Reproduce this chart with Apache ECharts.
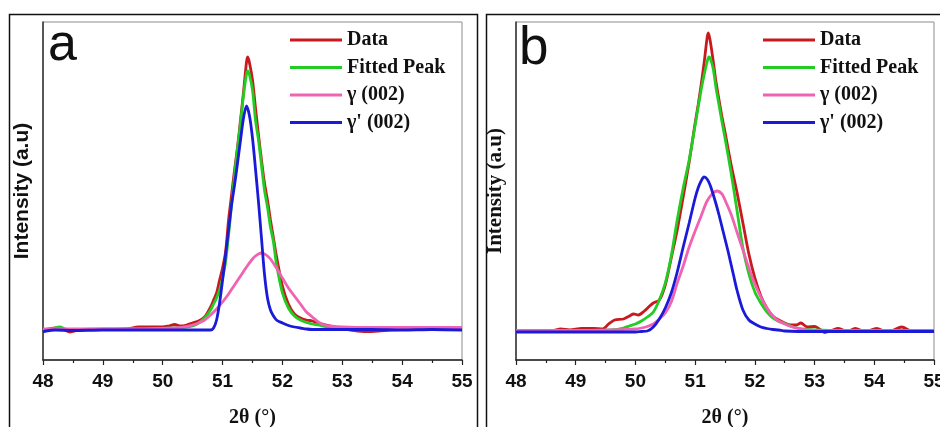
<!DOCTYPE html>
<html>
<head>
<meta charset="utf-8">
<script src="https://cdn.jsdelivr.net/npm/echarts@6/dist/echarts.min.js"></script>
<style>
html,body{margin:0;padding:0;background:#fff;overflow:hidden;}
#chart{width:940px;height:427px;}
</style>
</head>
<body>
<div id="chart"></div>
<script>
// ---- Data (2θ in degrees, intensity in arbitrary units) ----
var seriesNames = ['Data', 'Fitted Peak', 'γ (002)', "γ' (002)"];
var xTicks = [48, 49, 50, 51, 52, 53, 54, 55];

// Panel a
var dataA = [[48.0,30],[48.1,31],[48.2,32],[48.3,31.5],[48.45,28],[48.6,30],[48.8,30.5],[49.0,30.5],[49.2,30.5],[49.4,31],[49.6,33],[49.8,33],[50.0,33],[50.1,34],[50.2,35.5],[50.3,34],[50.4,35],[50.5,37],[50.6,39],[50.7,43],[50.8,53],[50.85,60],[50.9,67],[50.95,80],[51.0,92],[51.05,108],[51.1,140],[51.15,165],[51.2,190],[51.25,213],[51.3,240],[51.35,268],[51.4,298],[51.42,303],[51.45,297],[51.5,280],[51.55,252],[51.6,225],[51.65,200],[51.7,177],[51.75,160],[51.8,140],[51.85,122],[51.9,104],[52.0,74],[52.1,56],[52.2,46],[52.3,42],[52.4,40],[52.5,39],[52.6,37],[52.7,35.5],[52.8,34],[53.0,31.5],[53.2,29.5],[53.4,28.5],[53.6,29],[53.8,30],[54.0,30.5],[54.2,30.5],[54.4,31],[54.6,31],[54.8,31],[55.0,31]];
var fitA = [[48.0,30],[48.15,31],[48.28,33],[48.4,30.5],[48.6,30.5],[49.0,31],[49.5,31],[50.0,31.5],[50.2,32],[50.4,33],[50.5,34],[50.6,37],[50.7,42],[50.8,50],[50.85,56],[50.9,62],[50.95,70],[51.0,82],[51.05,98],[51.1,125],[51.15,155],[51.2,185],[51.25,212],[51.3,237],[51.35,265],[51.4,286],[51.42,289],[51.45,285],[51.5,270],[51.55,240],[51.6,220],[51.65,195],[51.7,170],[51.75,153],[51.8,133],[51.85,118],[51.9,96],[52.0,67],[52.1,52],[52.2,44],[52.3,40],[52.4,37.5],[52.5,36],[52.6,35],[52.7,33.5],[52.8,32.5],[53.0,31.5],[53.5,31],[54.0,31],[54.5,31],[55.0,31]];
var gammaA = [[48.0,31],[48.5,31],[49.0,31],[49.5,31],[50.0,31.5],[50.2,32],[50.3,32.5],[50.4,33.5],[50.5,35],[50.6,37],[50.7,40],[50.8,45],[50.9,51],[51.0,58],[51.1,66],[51.2,75],[51.3,84],[51.4,93],[51.5,101],[51.55,104],[51.6,106],[51.65,107],[51.7,106],[51.75,104],[51.8,101],[51.9,92],[52.0,82],[52.1,72],[52.2,64],[52.3,56],[52.4,48],[52.5,43],[52.6,38],[52.7,35],[52.8,34],[53.0,33],[53.5,32.5],[54.0,32.5],[54.5,32.5],[55.0,32.5]];
var gammaPrimeA = [[48.0,28],[48.05,29],[48.2,30],[48.5,29.5],[49.0,30],[49.5,30],[50.0,30],[50.5,30],[50.8,30],[50.85,32],[50.9,40],[50.95,57],[51.0,80],[51.05,105],[51.1,130],[51.15,155],[51.2,175],[51.25,197],[51.3,220],[51.35,242],[51.4,254],[51.45,244],[51.5,222],[51.55,191],[51.6,158],[51.65,122],[51.7,86],[51.75,62],[51.8,50],[51.85,44],[51.9,40],[52.0,37],[52.1,34.5],[52.2,33],[52.3,32],[52.4,31],[52.5,30.5],[53.0,30.5],[53.5,30.5],[54.0,30],[54.5,30.5],[55.0,30]];

// Panel b
var dataB = [[48.0,29.5],[48.3,29.5],[48.6,29.5],[48.75,31],[48.9,30],[49.1,31.5],[49.3,31.5],[49.45,31],[49.55,36],[49.65,40],[49.8,41],[49.9,44],[49.97,46],[50.05,45],[50.15,49],[50.22,53],[50.3,57],[50.4,60],[50.5,75],[50.6,102],[50.7,130],[50.8,163],[50.9,198],[51.0,237],[51.05,255],[51.1,275],[51.15,297],[51.2,322],[51.22,327],[51.25,320],[51.3,300],[51.35,278],[51.4,260],[51.45,243],[51.5,228],[51.6,196],[51.7,168],[51.8,137],[51.9,106],[52.0,82],[52.1,64],[52.2,52],[52.3,44],[52.4,40],[52.5,37],[52.6,35],[52.7,35],[52.77,37],[52.88,33],[53.0,33.5],[53.08,31],[53.17,27.5],[53.28,29.5],[53.4,31.5],[53.55,28.5],[53.68,31.5],[53.85,28.5],[54.04,31.5],[54.2,28.5],[54.3,29.5],[54.46,33],[54.6,29.5],[54.7,29],[55.0,29]];
var fitB = [[48.0,29.5],[48.5,29.5],[49.0,29.5],[49.4,29.5],[49.6,30],[49.8,32],[49.9,34],[50.0,36],[50.1,39],[50.2,43],[50.3,48],[50.4,60],[50.5,77],[50.6,104],[50.7,140],[50.8,172],[50.9,200],[51.0,235],[51.1,270],[51.15,285],[51.2,298],[51.23,303],[51.25,302],[51.3,292],[51.35,272],[51.4,255],[51.45,238],[51.5,222],[51.6,188],[51.7,150],[51.8,112],[51.9,86],[52.0,68],[52.1,57],[52.2,48],[52.3,42],[52.4,38.5],[52.5,36.5],[52.6,34],[52.7,32],[52.8,31],[53.0,30],[53.5,29.5],[54.0,29.5],[54.5,29.5],[55.0,29.5]];
var gammaB = [[48.0,29.5],[48.5,29.5],[49.0,29.5],[49.5,30],[49.8,30.5],[50.0,31],[50.1,32],[50.2,33.5],[50.3,36],[50.4,41],[50.5,47],[50.6,58],[50.7,77],[50.8,94],[50.9,113],[51.0,129],[51.1,144],[51.2,159],[51.3,167],[51.37,169],[51.45,166],[51.5,160],[51.6,146],[51.7,128],[51.8,110],[51.9,92],[52.0,76],[52.1,63],[52.2,52],[52.3,44],[52.4,39],[52.5,36],[52.6,33.5],[52.7,32],[52.8,30.5],[53.0,29.5],[53.5,29],[54.0,29],[54.5,29],[55.0,29]];
var gammaPrimeB = [[48.0,28],[48.5,28],[49.0,28],[49.5,28],[50.0,28],[50.1,28.5],[50.2,29],[50.3,33],[50.4,41],[50.5,52],[50.6,67],[50.7,88],[50.8,113],[50.9,137],[51.0,162],[51.05,172],[51.1,179],[51.15,183],[51.2,181],[51.25,175],[51.3,166],[51.35,156],[51.4,145],[51.45,133],[51.5,121],[51.55,109],[51.6,96],[51.65,83],[51.7,70],[51.8,50],[51.9,40],[52.0,36],[52.1,33],[52.2,31.5],[52.3,30.5],[52.4,30],[52.5,29],[53.0,28.5],[53.5,28.5],[54.0,28.5],[54.5,28.5],[55.0,28.5]];

// ---- Styles ----
var colors = ['#c81a1e', '#22cc22', '#f062b2', '#1a1ad8'];
var SANS = '"Liberation Sans", Arial, sans-serif';
var SERIF = '"Liberation Serif", "Times New Roman", serif';

function makeXAxis(gi) {
  return {
    gridIndex: gi, type: 'value', min: xTicks[0], max: xTicks[xTicks.length - 1], interval: 1,
    axisLine: { show: true, onZero: false, lineStyle: { color: '#222', width: 1.5 } },
    axisTick: { show: true, inside: false, length: 5, lineStyle: { color: '#222', width: 1.2 } },
    minorTick: { show: true, splitNumber: 2, length: 3, lineStyle: { color: '#222', width: 1.2 } },
    axisLabel: { show: true, margin: 12, color: '#111', fontFamily: SANS, fontWeight: 'bold', fontSize: 19 },
    splitLine: { show: false }, minorSplitLine: { show: false },
    name: '2θ (°)', nameLocation: 'middle', nameGap: 48,
    nameTextStyle: { fontFamily: SERIF, fontWeight: 'bold', fontSize: 20, color: '#111' }
  };
}
function makeYAxis(gi, fam) {
  return {
    gridIndex: gi, type: 'value', min: 0, max: 338,
    axisLine: { show: true, onZero: false, lineStyle: { color: '#333', width: 1.5 } },
    axisTick: { show: false }, axisLabel: { show: false }, splitLine: { show: false },
    name: 'Intensity (a.u)', nameLocation: 'middle', nameGap: 10,
    nameTextStyle: { fontFamily: fam, fontWeight: 'bold', fontSize: 21, color: '#111' }
  };
}
function makeSeries(gi, arrs) {
  return arrs.map(function (d, i) {
    return {
      name: seriesNames[i], type: 'line', xAxisIndex: gi, yAxisIndex: gi,
      data: d, showSymbol: false, symbol: 'none', smooth: 0.3,
      lineStyle: { color: colors[i], width: 2.8 }, itemStyle: { color: colors[i] },
      z: 2 + i
    };
  });
}
function makeLegend(left) {
  return {
    left: left, top: 30, orient: 'vertical', icon: 'rect',
    itemWidth: 52, itemHeight: 3, itemGap: 7.5, padding: 0,
    data: seriesNames,
    textStyle: { fontFamily: SERIF, fontWeight: 'bold', fontSize: 20, color: '#111' }
  };
}

var chart = echarts.init(document.getElementById('chart'), null, { renderer: 'canvas' });
chart.setOption({
  animation: false,
  backgroundColor: '#fff',
  color: colors,
  grid: [
    { left: 43, right: 478, top: 22, bottom: 67, outerBoundsMode: 'none', containLabel: false, show: true, borderColor: '#8c8c8c', borderWidth: 1, backgroundColor: 'transparent' },
    { left: 516, right: 6, top: 22, bottom: 67, outerBoundsMode: 'none', containLabel: false, show: true, borderColor: '#8c8c8c', borderWidth: 1, backgroundColor: 'transparent' }
  ],
  xAxis: [makeXAxis(0), makeXAxis(1)],
  yAxis: [makeYAxis(0, SANS), makeYAxis(1, SERIF)],
  legend: [makeLegend(290), makeLegend(763)],
  series: makeSeries(0, [dataA, fitA, gammaA, gammaPrimeA]).concat(makeSeries(1, [dataB, fitB, gammaB, gammaPrimeB])),
  graphic: [
    { type: 'rect', silent: true, shape: { x: 9.5, y: 14.5, width: 468, height: 440 }, style: { fill: 'none', stroke: '#111', lineWidth: 1.5 } },
    { type: 'rect', silent: true, shape: { x: 486.5, y: 14.5, width: 480, height: 440 }, style: { fill: 'none', stroke: '#111', lineWidth: 1.5 } },
    { type: 'text', silent: true, x: 48, y: 46, style: { text: 'a', font: '52px ' + SANS, fill: '#111', align: 'left', verticalAlign: 'middle' } },
    { type: 'text', silent: true, x: 519, y: 49, style: { text: 'b', font: '53px ' + SANS, fill: '#111', align: 'left', verticalAlign: 'middle' } }
  ]
});
</script>
</body>
</html>
